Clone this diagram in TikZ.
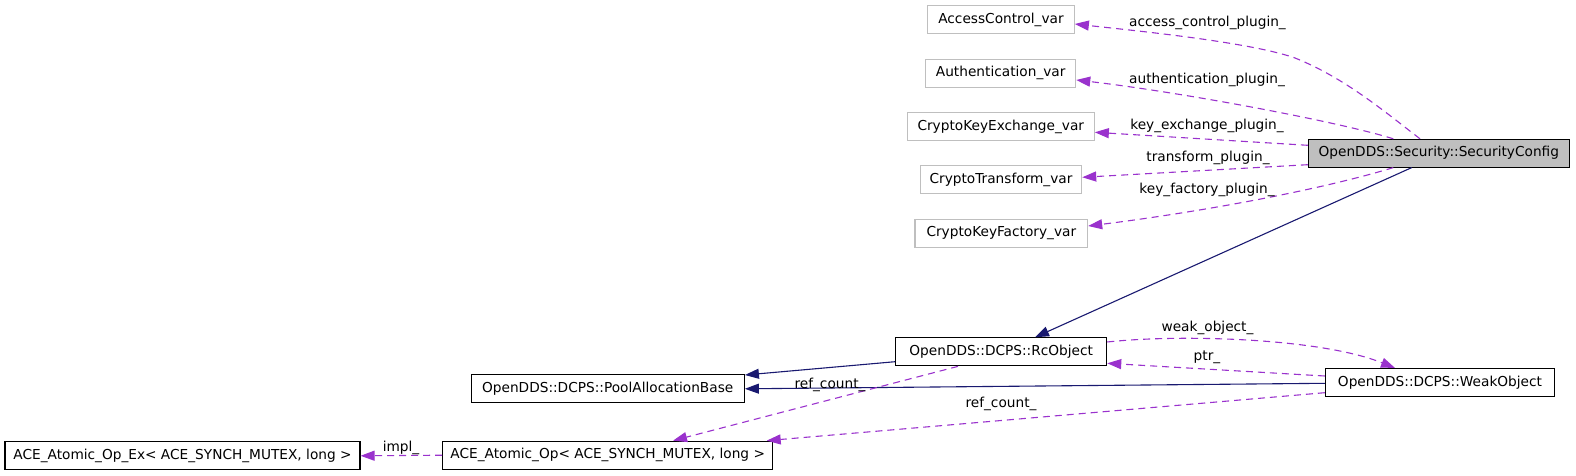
\documentclass[tikz,border=0pt]{standalone}
\usepackage{fontspec}
\setmainfont{DejaVu Sans}
\usetikzlibrary{arrows.meta}
\definecolor{depc}{HTML}{9A32CD}
\definecolor{inhc}{HTML}{191970}
\definecolor{grayb}{HTML}{BFBFBF}
\begin{document}
\begin{tikzpicture}[x=1pt,y=-1pt,
  font=\fontsize{13.7}{16}\selectfont,
  box/.style={draw=black, line width=1.1pt, fill=white, inner sep=0pt, minimum height=28pt, text height=10pt, text depth=3pt, anchor=center},
  gbox/.style={box, draw=grayb},
  depe/.style={draw=depc, line width=1.1pt, dash pattern=on 7pt off 5pt, -{Triangle[length=14pt,width=10pt]}},
  inhe/.style={draw=inhc, line width=1.1pt, -{Triangle[length=14pt,width=10pt]}},
  lab/.style={anchor=base, inner sep=0pt}]
\useasboundingbox (0,0) rectangle (1576,476);
% nodes
\node[gbox, minimum width=146.6pt] (AC) at (1001,19.7) {AccessControl\_var};
\node[gbox, minimum width=150pt] (AU) at (1000.7,73.3) {Authentication\_var};
\node[gbox, minimum width=187pt] (KE) at (1000.8,126.7) {CryptoKeyExchange\_var};
\node[gbox, minimum width=161.4pt] (CT) at (1001,179.8) {CryptoTransform\_var};
\node[gbox, minimum width=172.7pt] (KF) at (1001.3,233.3) {CryptoKeyFactory\_var};
\node[box, fill=grayb, minimum width=261pt, minimum height=27.7pt] (SC) at (1438.8,153.2) {OpenDDS::Security::SecurityConfig};
\node[box, minimum width=211pt] (RC) at (1001.2,351.8) {OpenDDS::DCPS::RcObject};
\node[box, minimum width=273.3pt] (PA) at (607.7,388.8) {OpenDDS::DCPS::PoolAllocationBase};
\node[box, minimum width=229.4pt] (WO) at (1440,382.5) {OpenDDS::DCPS::WeakObject};
\node[box, minimum width=355pt] (AX) at (182.5,455.8) {ACE\_Atomic\_Op\_Ex< ACE\_SYNCH\_MUTEX, long >};
\node[box, minimum width=330pt] (AO) at (607.7,455.2) {ACE\_Atomic\_Op< ACE\_SYNCH\_MUTEX, long >};
% edges
\draw[depe] ([xshift=-18.8pt]SC.north) .. controls (1385,112) and (1345,78) .. (1295,58)
  .. controls (1250,42) and (1134.3,30.6) .. ([yshift=-4.3pt]AC.east);
\draw[depe] ([xshift=-45.5pt]SC.north) .. controls (1340,122) and (1180,92) .. ([yshift=-6.7pt]AU.east);
\draw[depe] ([yshift=7.9pt]SC.west) -- ([yshift=-5.6pt]KE.east);
\draw[depe] ([yshift=-11.5pt]SC.west) -- ([yshift=2.5pt]CT.east);
\draw[depe] ([xshift=-45.5pt]SC.south) .. controls (1320,190) and (1200,212) .. ([yshift=7.3pt]KF.east);
\draw[inhe] ([xshift=-27.1pt]SC.south) -- ([xshift=33.8pt]RC.north);
\draw[inhe] ([yshift=-9.9pt]RC.west) -- ([yshift=13.8pt]PA.east);
\draw[inhe] ([yshift=-0.8pt]WO.west) -- (PA.east);
\draw[depe] ([yshift=9.8pt]RC.east) .. controls (1180,334) and (1320,338) .. ([xshift=-45pt]WO.north);
\draw[depe] ([yshift=6.5pt]WO.west) -- ([yshift=-11.5pt]RC.east);
\draw[depe] ([xshift=-43.2pt]RC.south) -- ([xshift=65.3pt]AO.north);
\draw[depe] ([yshift=-10.2pt]WO.west) -- ([xshift=159pt]AO.north);
\draw[depe] (AO.west) -- (AX.east);
% labels
\node[lab] (l1) at (1207.5,26.7) {access\_control\_plugin\_};
\node[lab] (l2) at (1207,83.3) {authentication\_plugin\_};
\node[lab] (l3) at (1207,129) {key\_exchange\_plugin\_};
\node[lab] (l4) at (1208,161) {transform\_plugin\_};
\node[lab] (l5) at (1207,193.3) {key\_factory\_plugin\_};
\node[lab] (l6) at (1207.5,331.7) {weak\_object\_};
\node[lab] (l7) at (1207,360) {ptr\_};
\node[lab] (l8) at (830,388.3) {ref\_count\_};
\node[lab] (l9) at (1001,407) {ref\_count\_};
\node[lab] (l10) at (401,451.7) {impl\_};
\end{tikzpicture}
\end{document}
